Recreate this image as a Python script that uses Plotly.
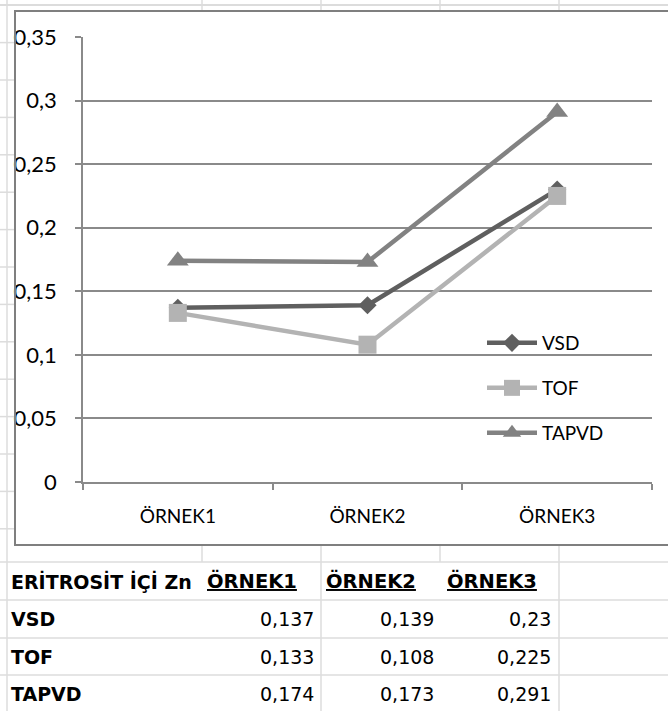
import plotly.graph_objects as go

# ---------------- data ----------------
categories = ["ÖRNEK1", "ÖRNEK2", "ÖRNEK3"]
series_names = ["VSD", "TOF", "TAPVD"]
vsd = [0.137, 0.139, 0.23]
tof = [0.133, 0.108, 0.225]
tapvd = [0.174, 0.173, 0.291]
table_title = "ERİTROSİT İÇİ Zn"
y_tick_vals = [0, 0.05, 0.1, 0.15, 0.2, 0.25, 0.3, 0.35]
y_tick_text = ["0", "0,05", "0,1", "0,15", "0,2", "0,25", "0,3", "0,35"]

# ---------------- layout helpers ----------------
W, H = 668, 711


def px(x):
    return x / W


def py(y):
    return 1 - y / H


colors = ["#5f5f5f", "#b3b3b3", "#828282"]
symbols = ["diamond", "square", "triangle-up"]
msizes = [14, 18, 19]
legends = ["legend", "legend2", "legend3"]
series = [vsd, tof, tapvd]

fig = go.Figure()
for name, vals, c, s, ms, lg in zip(series_names, series, colors, symbols, msizes, legends):
    fig.add_trace(go.Scatter(
        x=categories, y=vals, mode="lines+markers", name=name,
        line=dict(color=c, width=4.5),
        marker=dict(symbol=s, size=ms, color=c, line=dict(width=0)),
        legend=lg, cliponaxis=False,
    ))

axis_gray = "#8a8a8a"
grid_light = "#dcdcdc"
chart_font = "Lato"
table_font = "DejaVu Sans"

shapes = []


def line(x0, y0, x1, y1, color=grid_light, width=1.5):
    shapes.append(dict(type="line", xref="paper", yref="paper",
                       x0=px(x0), y0=py(y0), x1=px(x1), y1=py(y1),
                       line=dict(color=color, width=width)))


# spreadsheet background grid
line(0, 5, W, 5, width=2)
line(7, 0, 7, H)
for xx in [202, 321, 440, 559]:
    line(xx, 0, xx, 11)
for k in range(-1, 13):
    yy = 80 + 37.4 * k
    line(0, yy, 15, yy)
for yy in [562, 600, 638, 675]:
    line(0, yy, W, yy)
for xx in [202, 440]:
    line(xx, 545, xx, 562)
for xx in [321, 559]:
    line(xx, 545, xx, H)

# chart border
shapes.append(dict(type="rect", xref="paper", yref="paper",
                   x0=px(15), y0=py(545), x1=px(W + 5), y1=py(11),
                   line=dict(color="#7f7f7f", width=2), fillcolor="rgba(0,0,0,0)"))

annotations = []
tf = dict(family=table_font, size=19, color="#000000")
tfb = dict(family=table_font, size=19, color="#000000", weight="bold")
row_y = [619, 657, 694]
col_left = [205, 324, 445]
col_right = [316, 436, 553]

annotations.append(dict(text=table_title, x=px(9), y=py(581), xref="paper", yref="paper",
                        xanchor="left", yanchor="middle", showarrow=False, font=tfb))
for cat, xl in zip(categories, col_left):
    annotations.append(dict(text=cat, x=px(xl), y=py(581), xref="paper", yref="paper",
                            xanchor="left", yanchor="middle", showarrow=False,
                            font=dict(family=table_font, size=19.5, color="#000000",
                                      weight="bold", lineposition="under")))
for name, vals, yy in zip(series_names, series, row_y):
    annotations.append(dict(text=name, x=px(9), y=py(yy), xref="paper", yref="paper",
                            xanchor="left", yanchor="middle", showarrow=False, font=tfb))
    for v, xr in zip(vals, col_right):
        annotations.append(dict(text=str(v).replace(".", ","), x=px(xr), y=py(yy),
                                xref="paper", yref="paper", xanchor="right", yanchor="middle",
                                showarrow=False, font=tf))

legend_common = dict(xanchor="left", yanchor="middle", bgcolor="rgba(0,0,0,0)",
                     font=dict(family=chart_font, size=19, color="#000000"),
                     borderwidth=0, itemwidth=50)

fig.update_layout(
    template="none",
    width=W, height=H,
    margin=dict(l=0, r=0, t=0, b=0, pad=0, autoexpand=False),
    paper_bgcolor="white", plot_bgcolor="white",
    showlegend=True,
    legend=dict(x=px(482), y=py(343), **legend_common),
    legend2=dict(x=px(482), y=py(388), **legend_common),
    legend3=dict(x=px(482), y=py(433), **legend_common),
    xaxis=dict(domain=[px(83), px(652)], type="category", range=[-0.5, 2.5],
               automargin=False,
               showgrid=False, zeroline=False, showline=True, linecolor=axis_gray,
               linewidth=1.5, ticks="outside", tickson="boundaries", ticklen=6,
               tickcolor=axis_gray, tickwidth=1.5, ticklabelstandoff=16,
               tickfont=dict(family=chart_font, size=19, color="#000000"), fixedrange=True),
    yaxis=dict(domain=[py(482), py(37)], range=[0, 0.35], tickvals=y_tick_vals,
               automargin=False,
               ticktext=y_tick_text, showgrid=True, gridcolor=axis_gray, gridwidth=1.5,
               zeroline=False, showline=True, linecolor=axis_gray, linewidth=1.5,
               ticks="outside", ticklen=6, tickcolor=axis_gray, tickwidth=1.5,
               ticklabelstandoff=14,
               tickfont=dict(family=chart_font, size=22, color="#000000"), fixedrange=True),
    shapes=shapes,
    annotations=annotations,
)

fig.write_html("out.html")
